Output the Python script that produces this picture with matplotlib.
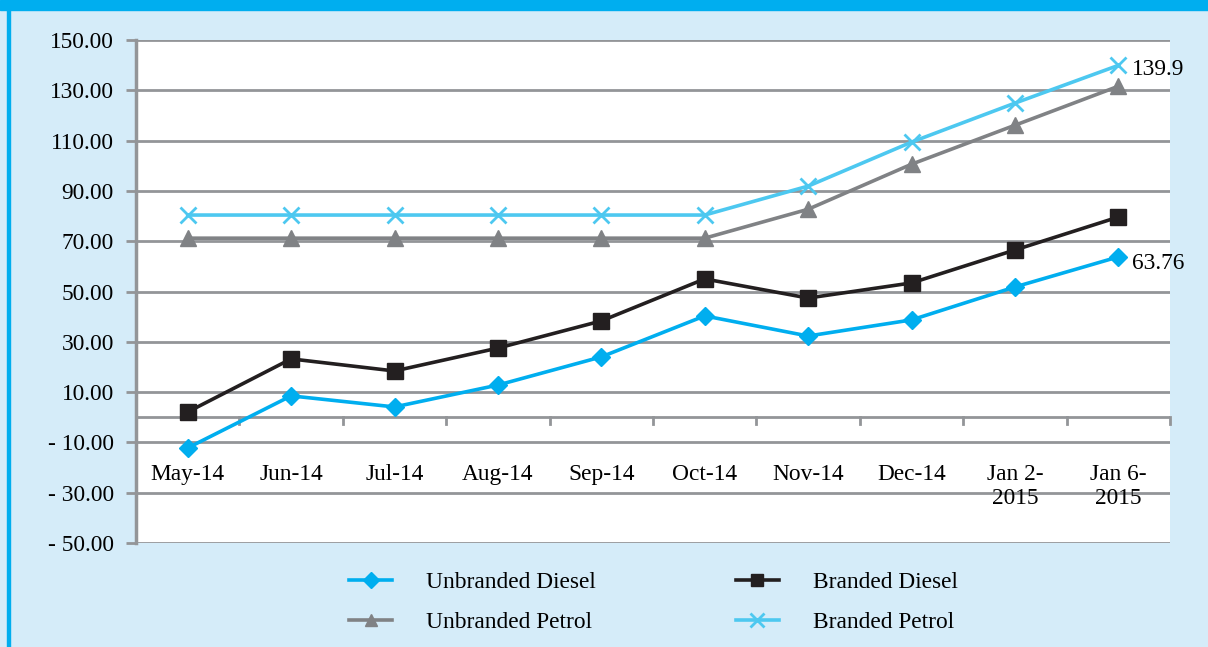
import matplotlib.pyplot as plt
from matplotlib.patches import Rectangle

plt.rcParams['font.family'] = ['Liberation Serif', 'DejaVu Serif']

months = ['May-14', 'Jun-14', 'Jul-14', 'Aug-14', 'Sep-14', 'Oct-14',
          'Nov-14', 'Dec-14', 'Jan 2-\n2015', 'Jan 6-\n2015']
unbranded_diesel = [-12.2, 8.5, 4.1, 12.8, 24.0, 40.3, 32.3, 38.7, 51.8, 63.76]
branded_diesel = [2.1, 23.2, 18.4, 27.5, 38.3, 55.0, 47.4, 53.4, 66.5, 79.6]
unbranded_petrol = [71.2, 71.2, 71.2, 71.2, 71.2, 71.2, 82.7, 100.6, 116.1, 131.6]
branded_petrol = [80.4, 80.4, 80.4, 80.4, 80.4, 80.4, 91.9, 109.4, 124.9, 139.9]
yticks = [150, 130, 110, 90, 70, 50, 30, 10, -10, -30, -50]

BG = '#d5ecf9'
BLUE = '#00aeef'
GRID = '#939598'
FS = 16.8

fig = plt.figure(figsize=(12.08, 6.47), dpi=100, facecolor=BG)

# header band and left strip
fig.patches.append(Rectangle((0, 1 - 10 / 647), 1, 10 / 647, transform=fig.transFigure,
                             color=BLUE, zorder=0))
fig.patches.append(Rectangle((7 / 1208, 0), 2.5 / 1208, 1, transform=fig.transFigure,
                             color=BLUE, zorder=0))

ax = fig.add_axes([136 / 1208, 104 / 647, 1034 / 1208, 503 / 647])
ax.set_facecolor('white')
x = list(range(len(months)))

ud, = ax.plot(x, unbranded_diesel, color='#00aeef', lw=2.6, marker='D', ms=9,
              label='Unbranded Diesel', zorder=4)
bd, = ax.plot(x, branded_diesel, color='#231f20', lw=2.6, marker='s', ms=11,
              label='Branded Diesel', zorder=4)
up, = ax.plot(x, unbranded_petrol, color='#808285', lw=2.6, marker='^', ms=11,
              label='Unbranded Petrol', zorder=4)
bp, = ax.plot(x, branded_petrol, color='#4dc8f0', lw=2.6, marker='x', ms=12, mew=2,
              label='Branded Petrol', zorder=4)

ax.annotate(f'{branded_petrol[-1]:.1f}', (x[-1], branded_petrol[-1]),
            xytext=(10, -3), textcoords='offset points', va='center', fontsize=FS)
ax.annotate(f'{unbranded_diesel[-1]:.2f}', (x[-1], unbranded_diesel[-1]),
            xytext=(10, -5), textcoords='offset points', va='center', fontsize=FS)

ax.set_xlim(-0.5, len(months) - 0.5)
ax.set_ylim(-50, 150)
ax.set_yticks(yticks)
ax.set_yticklabels([f'{v:.2f}' if v >= 0 else f'- {abs(v):.2f}' for v in yticks],
                   fontsize=FS)
ax.tick_params(axis='y', direction='out', length=7, width=2, color=GRID, pad=9)
ax.yaxis.grid(True, color=GRID, lw=2)
ax.set_axisbelow(True)
ax.set_xticks([])

for side in ['top', 'right', 'bottom']:
    ax.spines[side].set_visible(False)
ax.spines['left'].set_color(GRID)
ax.spines['left'].set_linewidth(2.5)

# category axis sits at zero with ticks between the categories
ax.axhline(0, color=GRID, lw=2, zorder=1)
for b in range(1, len(months) + 1):
    ax.plot([b - 0.5, b - 0.5], [0, -2.8], color=GRID, lw=2, zorder=1, clip_on=False)
for i, m in enumerate(months):
    ax.text(i, -18.6, m, ha='center', va='top', fontsize=FS, linespacing=1.2)

fig.legend([ud, up, bd, bp], [h.get_label() for h in (ud, up, bd, bp)],
           loc='upper left', bbox_to_anchor=(328 / 1208, 1 - 551 / 647), ncol=2,
           frameon=False, fontsize=FS, handlelength=1.85, handletextpad=1.45,
           columnspacing=6.0, labelspacing=0.78, markerscale=0.85)

fig.savefig('out.png', dpi=100, facecolor=BG)
